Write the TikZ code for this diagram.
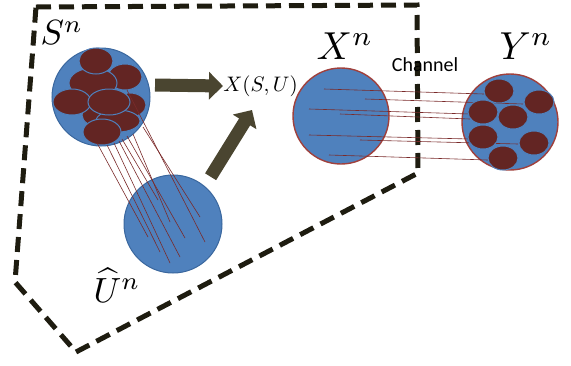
\documentclass[tikz,border=0pt]{standalone}
\usepackage{fontspec}
\newfontfamily\chanfont{Carlito}
\usetikzlibrary{arrows.meta}
\definecolor{ballblue}{HTML}{4F81BD}
\definecolor{ballrim}{HTML}{3A679E}
\definecolor{redrim}{HTML}{A0403C}
\definecolor{blobred}{HTML}{632523}
\definecolor{threadred}{HTML}{7A2A2A}
\definecolor{blkolive}{HTML}{4A4530}
\definecolor{fenceblack}{HTML}{1E1C10}

\begin{document}
\begin{tikzpicture}[x=1pt,y=-1pt,
    ball/.style={circle, fill=ballblue, draw=ballrim, line width=1pt, minimum size=98pt, inner sep=0pt},
    blob/.style={fill=blobred, draw=ballblue, line width=1pt},
    thread/.style={threadred, line width=0.6pt},
    blk/.style={blkolive, line width=13pt, -{Triangle[width=27pt,length=14pt]}},
    fence/.style={fenceblack, line width=5pt, dash pattern=on 15pt off 8pt}]
    \useasboundingbox (0,0) rectangle (571,365);
    \draw[fence] (36,7) -- (417,5) -- (418,173) -- (76,352) -- (15,282) -- cycle;

    % sets
    \node[ball] (S) at (101,97) {};
    \node[ball] (U) at (173,224) {};
    \node[ball, draw=redrim, line width=1.4pt, minimum size=96pt] (X) at (341,116) {};
    \node[ball, draw=redrim, line width=1.4pt, minimum size=96pt] (Y) at (510,122) {};

    % bins of S
    \foreach \x/\y/\a/\b in {130/105/16/12, 100/115/18/12, 125/77/17/13, 93/83/24/15,
        96/61/17/13, 118/121/22/11, 72/102/19/13, 109/102/21/13, 102/132/19/13}
        \draw[blob] (\x,\y) ellipse [x radius=\a, y radius=\b];

    % S to U
    \foreach \x/\y/\u/\v in {97/143/148/237, 107/145/160/252, 114/143/170/263,
        119/141/180/257, 122/139/158/200, 127/136/185/238, 133/134/170/222,
        143/127/200/217, 127/90/205/242}
        \draw[thread] (\x,\y) -- (\u,\v);

    % X to Y
    \foreach \x/\y/\u/\v in {324/89/484/94, 365/99/523/104, 309/109/470/114,
        340/114/470/119, 309/135/470/139, 360/140/518/144, 329/155/488/160}
        \draw[thread] (\x,\y) -- (\u,\v);

    % bins of Y
    \foreach \x/\y in {499/91, 539/102, 483/112, 513/117, 483/137, 534/143, 503/158}
        \draw[blob] (\x,\y) ellipse [x radius=15, y radius=12];

    % labels
    \node[scale=3.5, inner sep=0pt] (Slab) at (62,33) {$S^n$};
    \node[scale=3.5, inner sep=0pt] (Ulab) at (117,285) {$\widehat{U}^n$};
    \node[scale=3.9, inner sep=0pt] (Xlab) at (345,46) {$X^n$};
    \node[scale=3.9, inner sep=0pt] (Ylab) at (526,46) {$Y^n$};
    \node[scale=2.1, anchor=west, inner sep=0pt] (XSU) at (223,86) {$X(S,U)$};
    \node[font=\chanfont\fontsize{20}{22}\selectfont] (chan) at (425,65) {Channel};

    % encoder arrows
    \coordinate (tip) at (252,110);
    \draw[blk] (S.14) ++(6,0) -- (XSU.west);
    \draw[blk, shorten <=11pt] (U.50) -- (tip);
\end{tikzpicture}
\end{document}
